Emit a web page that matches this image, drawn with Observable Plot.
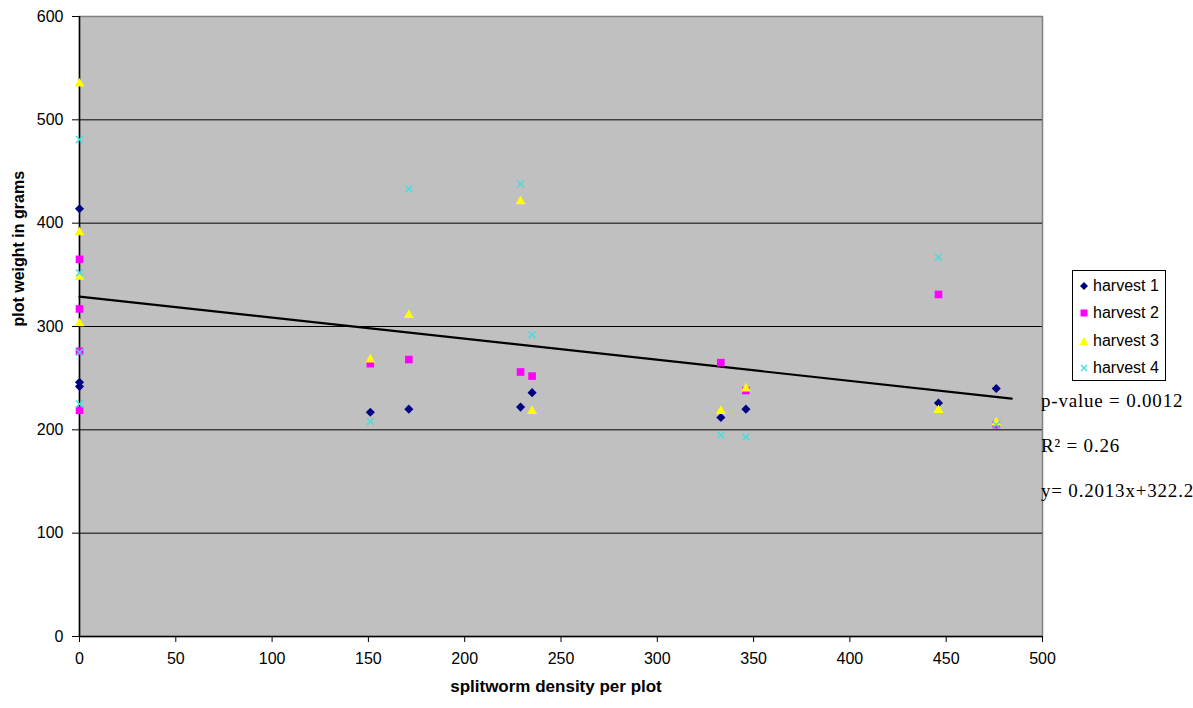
<!DOCTYPE html>
<html>
<head>
<meta charset="utf-8">
<script src="https://cdn.jsdelivr.net/npm/d3@7"></script>
<script src="https://cdn.jsdelivr.net/npm/@observablehq/plot@0.6"></script>
<style>
  html, body { margin: 0; padding: 0; background: #fff; }
  #wrap { position: relative; width: 1193px; height: 708px; overflow: hidden; }
  #legend { position: absolute; left: 1072px; top: 270px; width: 92px; height: 109px;
    border: 1px solid #000; background: #fff; font-family: "Liberation Sans", Arial, sans-serif; font-size: 16px; }
  .row { position: absolute; left: 0; height: 20px; line-height: 20px; white-space: nowrap; }
  .row svg { position: absolute; left: 6px; top: 5px; }
  .row span { position: absolute; left: 20px; top: 0; }
  .note { position: absolute; left: 1041px; font-family: "Liberation Serif", "Times New Roman", serif; font-size: 19px; letter-spacing: 0.8px; white-space: nowrap; line-height: 20px; }
</style>
</head>
<body>
<div id="wrap">
  <div id="chart"></div>
  <div id="legend"></div>
  <div id="notes"></div>
</div>
<script>
// ---- data ----
const seriesNames = ["harvest 1", "harvest 2", "harvest 3", "harvest 4"];
const seriesColors = ["#000080", "#FF00FF", "#FFFF00", "#3FDFDF"];
const seriesSymbols = ["diamond2", "square", "triangle", "times"];

const h1X = [0, 0, 0, 151, 171, 229, 235, 333, 346, 446, 476];
const h1Y = [414, 246, 242, 217, 220, 222, 236, 212, 220, 226, 240];
const h2X = [0, 0, 0, 0, 151, 171, 229, 235, 333, 346, 446, 476];
const h2Y = [365, 317, 276, 219, 264, 268, 256, 252, 265, 238, 331, 205];
const h3X = [0, 0, 0, 0, 151, 171, 229, 235, 333, 346, 446, 476];
const h3Y = [535, 391, 348, 303, 268, 311, 421, 218, 218, 240, 219, 207];
const h4X = [0, 0, 0, 0, 151, 171, 229, 235, 333, 346, 446, 476];
const h4Y = [481, 352, 275, 225, 208, 433, 438, 292, 195, 193, 367, 205];

const xTicks = [0, 50, 100, 150, 200, 250, 300, 350, 400, 450, 500];
const yTicks = [0, 100, 200, 300, 400, 500, 600];
const gridValues = [100, 200, 300, 400, 500];

// drawn trend line (as it appears in the picture)
const trendIntercept = 329;
const trendSlope = -0.204;
const trendXRange = [0, 484];

const xTitle = "splitworm density per plot";
const yTitle = "plot weight in grams";
const notes = ["p-value = 0.0012", "R\u00B2 = 0.26", "y= 0.2013x+322.2"];

// ---- build tables ----
const allX = [h1X, h2X, h3X, h4X];
const allY = [h1Y, h2Y, h3Y, h4Y];
const points = [];
allX.forEach((xs, s) => xs.forEach((x, i) => points.push({series: seriesNames[s], s, x, y: allY[s][i]})));
const trend = trendXRange.map(x => ({x, y: trendIntercept + trendSlope * x}));

const sizes = [4.1, 4.3, 3.7, 3.3];
const dotMarks = seriesNames.map((name, s) => {
  const data = points.filter(d => d.s === s);
  if (seriesSymbols[s] === "times") {
    return Plot.dot(data, {x: "x", y: "y", symbol: () => "times", r: sizes[s], stroke: seriesColors[s], strokeWidth: 1.4});
  }
  return Plot.dot(data, {x: "x", y: "y", symbol: () => seriesSymbols[s], r: sizes[s], fill: seriesColors[s], stroke: "none"});
});

const chart = Plot.plot({
  width: 1193,
  height: 708,
  marginLeft: 79,
  marginRight: 151,
  marginTop: 16,
  marginBottom: 72,
  style: {fontFamily: "'Liberation Sans', Arial, sans-serif", fontSize: "16px", background: "#fff", color: "#000"},
  x: {domain: [0, 500]},
  y: {domain: [0, 600]},
  symbol: {type: "identity"},
  marks: [
    Plot.frame({fill: "#C0C0C0", stroke: "#808080", strokeWidth: 1.5}),
    Plot.ruleY(gridValues, {stroke: "#000", strokeWidth: 1}),
    Plot.ruleX([0], {stroke: "#000", strokeWidth: 1.5}),
    Plot.ruleY([0], {stroke: "#000", strokeWidth: 1.5}),
    Plot.line(trend, {x: "x", y: "y", stroke: "#000", strokeWidth: 2.2}),
    ...dotMarks,
    Plot.axisY({ticks: yTicks, tickSize: 7, tickPadding: 9, label: null, tickFormat: d => String(d)}),
    Plot.axisX({ticks: xTicks, tickSize: 6, tickPadding: 10, label: null, tickFormat: d => String(d)}),
    Plot.text([xTitle], {frameAnchor: "bottom", dy: 55, dx: -5, text: d => d, fontWeight: "bold", fontSize: 17}),
    Plot.text([yTitle], {frameAnchor: "left", dx: -61, text: d => d, rotate: -90, fontWeight: "bold", fontSize: 16})
  ]
});
document.getElementById("chart").appendChild(chart);

// ---- legend (HTML, right of plot) ----
const legend = document.getElementById("legend");
const symbolPaths = {
  diamond2: c => `<path d="M5,1 L9,5 L5,9 L1,5 Z" fill="${c}"/>`,
  square: c => `<rect x="1.5" y="1.5" width="7" height="7" fill="${c}"/>`,
  triangle: c => `<path d="M5,1 L9.5,9 L0.5,9 Z" fill="${c}"/>`,
  times: c => `<path d="M2,2 L8,8 M8,2 L2,8" stroke="${c}" stroke-width="1.4"/>`
};
seriesNames.forEach((name, s) => {
  const row = document.createElement("div");
  row.className = "row";
  row.style.top = (5 + s * 27.3) + "px";
  row.innerHTML = `<svg width="10" height="10">${symbolPaths[seriesSymbols[s]](seriesColors[s])}</svg><span>${name}</span>`;
  legend.appendChild(row);
});

// ---- regression notes ----
const notesDiv = document.getElementById("notes");
notes.forEach((t, i) => {
  const n = document.createElement("div");
  n.className = "note";
  n.style.top = (391 + i * 45) + "px";
  n.textContent = t;
  notesDiv.appendChild(n);
});
</script>
</body>
</html>
